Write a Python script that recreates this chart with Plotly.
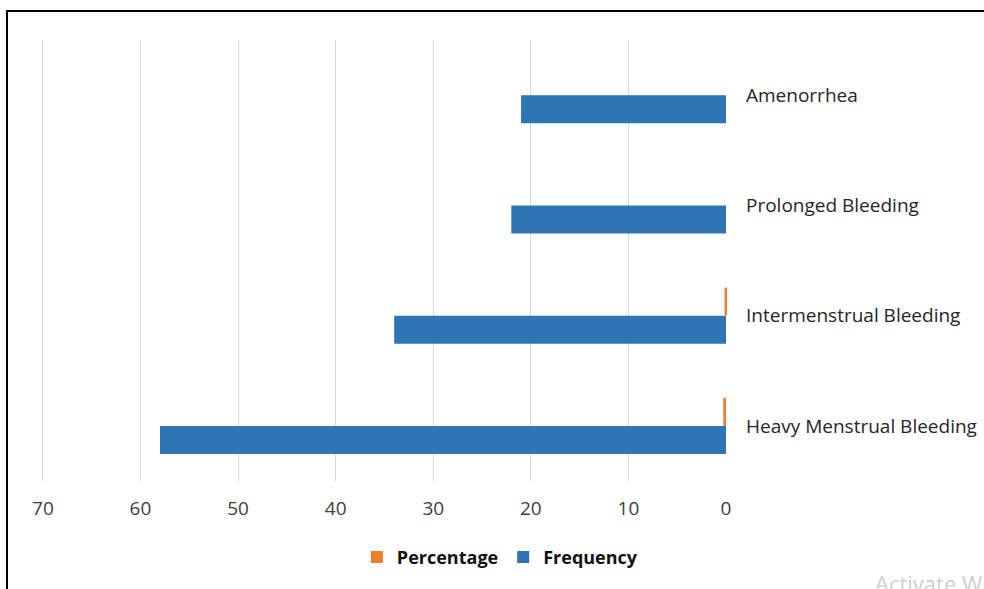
import plotly.graph_objects as go

categories = ["Heavy Menstrual Bleeding", "Intermenstrual Bleeding", "Prolonged Bleeding", "Amenorrhea"]
frequency = [58, 34, 22, 21]
percentage = [0.28, 0.15, 0, 0]
x_ticks = [70, 60, 50, 40, 30, 20, 10, 0]

BLUE = "#2E75B6"
ORANGE = "#ED7D31"
FONT = "'Open Sans', sans-serif"

fig = go.Figure()
fig.add_trace(go.Bar(y=categories, x=frequency, orientation="h", name="Frequency",
                     marker=dict(color=BLUE, line=dict(width=0))))
fig.add_trace(go.Bar(y=categories, x=percentage, orientation="h", name="Percentage",
                     marker=dict(color=ORANGE, line=dict(width=0))))

fig.update_layout(
    width=984, height=589,
    margin=dict(l=38, r=257, t=40, b=108),
    paper_bgcolor="white", plot_bgcolor="white",
    barmode="group", bargap=0.49, bargroupgap=0,
    font=dict(family=FONT, color="#404040"),
    showlegend=True,
    legend=dict(orientation="h", traceorder="reversed", xref="container", x=0.508, xanchor="center",
                yref="container", y=0.054, yanchor="middle",
                font=dict(size=18, color="#111111", family=FONT, weight="bold"),
                itemwidth=30, itemsizing="constant"),
    xaxis=dict(range=[70.5, -0.1], tickvals=x_ticks, showgrid=True, gridcolor="#D9D9D9", gridwidth=1,
               zeroline=False, showline=False, ticks="", ticklabelstandoff=14, automargin=False,
               tickfont=dict(size=19, color="#404040")),
    yaxis=dict(categoryorder="array", categoryarray=categories, side="right",
               showgrid=False, zeroline=False, showline=False, ticks="", automargin=False,
               ticklabelstandoff=18, tickfont=dict(size=19, color="#262626")),
    shapes=[dict(type="rect", xref="paper", yref="paper",
                 x0=(7 - 38) / 689, x1=1.6, y0=-0.5, y1=1 + (40 - 11) / 441,
                 line=dict(color="black", width=2), fillcolor="rgba(0,0,0,0)", layer="below")],
    annotations=[dict(text="Activate Windows", xref="paper", yref="paper",
                      x=(873 - 38) / 689, y=-(583 - 481) / 441, xanchor="left", yanchor="middle",
                      showarrow=False, font=dict(size=22, color="#CFCFCF", family=FONT))],
)

fig.write_html("out.html")
